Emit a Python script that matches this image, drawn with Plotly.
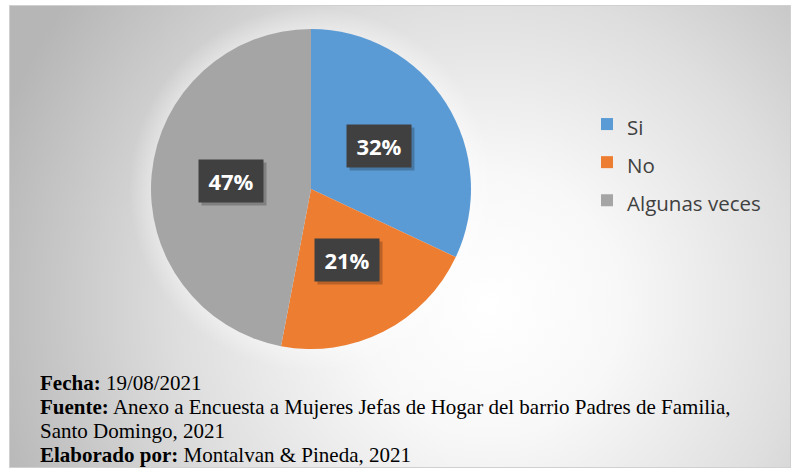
import math
import urllib.parse
import plotly.graph_objects as go

categories = ["Si", "No", "Algunas veces"]
values = [32, 21, 47]
colors = ["#5B9BD5", "#ED7D31", "#A5A5A5"]

note_lines = [
    ("Fecha:", " 19/08/2021"),
    ("Fuente:", " Anexo a Encuesta a Mujeres Jefas de Hogar del barrio Padres de Familia,"),
    ("", "Santo Domingo, 2021"),
    ("Elaborado por:", " Montalvan & Pineda, 2021"),
]

W, H = 791, 468
# pie placement (paper fractions)
dom_x = [151 / W, 471 / W]
dom_y = [1 - 349 / H, 1 - 29 / H]

bg_svg = (
    "<svg xmlns='http://www.w3.org/2000/svg' width='782' height='463' viewBox='0 0 782 463' preserveAspectRatio='none'>"
    "<defs>"
    "<radialGradient id='g' gradientUnits='userSpaceOnUse' cx='480' cy='300' r='520'>"
    "<stop offset='0' stop-color='#ffffff'/>"
    "<stop offset='0.25' stop-color='#f8f8f8'/>"
    "<stop offset='0.6' stop-color='#dedede'/>"
    "<stop offset='1' stop-color='#b6b6b6'/>"
    "</radialGradient>"
    "<radialGradient id='h' gradientUnits='userSpaceOnUse' cx='302' cy='184' r='182'>"
    "<stop offset='0.84' stop-color='#ffffff' stop-opacity='0.45'/>"
    "<stop offset='1' stop-color='#ffffff' stop-opacity='0'/>"
    "</radialGradient>"
    "</defs>"
    "<rect width='782' height='463' fill='url(#g)'/>"
    "<circle cx='302' cy='184' r='182' fill='url(#h)'/>"
    "<rect x='0.5' y='0.5' width='781' height='462' fill='none' stroke='#d0d0d0'/>"
    "</svg>"
)
bg_uri = "data:image/svg+xml;charset=utf-8," + urllib.parse.quote(bg_svg)

fig = go.Figure(
    go.Pie(
        labels=[f"<span style='font-size:20.5px'>{c}</span>" for c in categories],
        values=values,
        sort=False,
        direction="clockwise",
        rotation=0,
        marker=dict(colors=colors, line=dict(width=0)),
        textinfo="none",
        hoverinfo="label+percent",
        domain=dict(x=dom_x, y=dom_y),
    )
)

# data labels, placed at the middle angle of each slice
cx = (dom_x[0] + dom_x[1]) / 2 * W
cy = (1 - (dom_y[0] + dom_y[1]) / 2) * H
R = min((dom_x[1] - dom_x[0]) * W, (dom_y[1] - dom_y[0]) * H) / 2
total = sum(values)
cum = 0
annotations = []
for v in values:
    mid = (cum + v / 2) / total * 2 * math.pi
    cum += v
    px = cx + 0.5 * R * math.sin(mid)
    py = cy - 0.5 * R * math.cos(mid)
    pct = f"{round(v / total * 100)}%"
    common = dict(x=px / W, y=1 - py / H, xref="paper", yref="paper",
                  xanchor="center", yanchor="middle",
                  showarrow=False, width=52, height=30, borderpad=6,
                  font=dict(family="Open Sans", size=22, color="white"))
    annotations.append(dict(common, text=" ", bgcolor="rgba(0,0,0,0.22)",
                            xshift=3, yshift=-3))
    annotations.append(dict(common, text=f"<b>{pct}</b>", bgcolor="#404040"))

note_y = [383, 407, 431, 455]
for (b, t), yy in zip(note_lines, note_y):
    txt = (f"<b>{b}</b>" if b else "") + t
    annotations.append(dict(
        x=38 / W, y=1 - yy / H, xref="paper", yref="paper",
        xanchor="left", yanchor="middle", showarrow=False, text=txt,
        font=dict(family="Liberation Serif", size=21, color="black")))

fig.update_layout(
    width=W, height=H,
    margin=dict(l=0, r=0, t=0, b=0),
    paper_bgcolor="white",
    plot_bgcolor="rgba(0,0,0,0)",
    showlegend=True,
    legend=dict(
        x=587 / W, y=1 - 100 / H, xanchor="left", yanchor="top",
        font=dict(family="Open Sans", size=27, color="#404040"),
        bgcolor="rgba(0,0,0,0)",
    ),
    images=[dict(source=bg_uri, xref="paper", yref="paper",
                 x=9 / W, y=1 - 5 / H, sizex=1 - 9 / W, sizey=1 - 5 / H,
                 sizing="stretch", layer="below", xanchor="left", yanchor="top")],
    annotations=annotations,
)

fig.write_html(
    "out.html",
    config={"displayModeBar": False},
    post_script="document.body.style.margin='0';document.body.style.overflow='hidden';",
)
